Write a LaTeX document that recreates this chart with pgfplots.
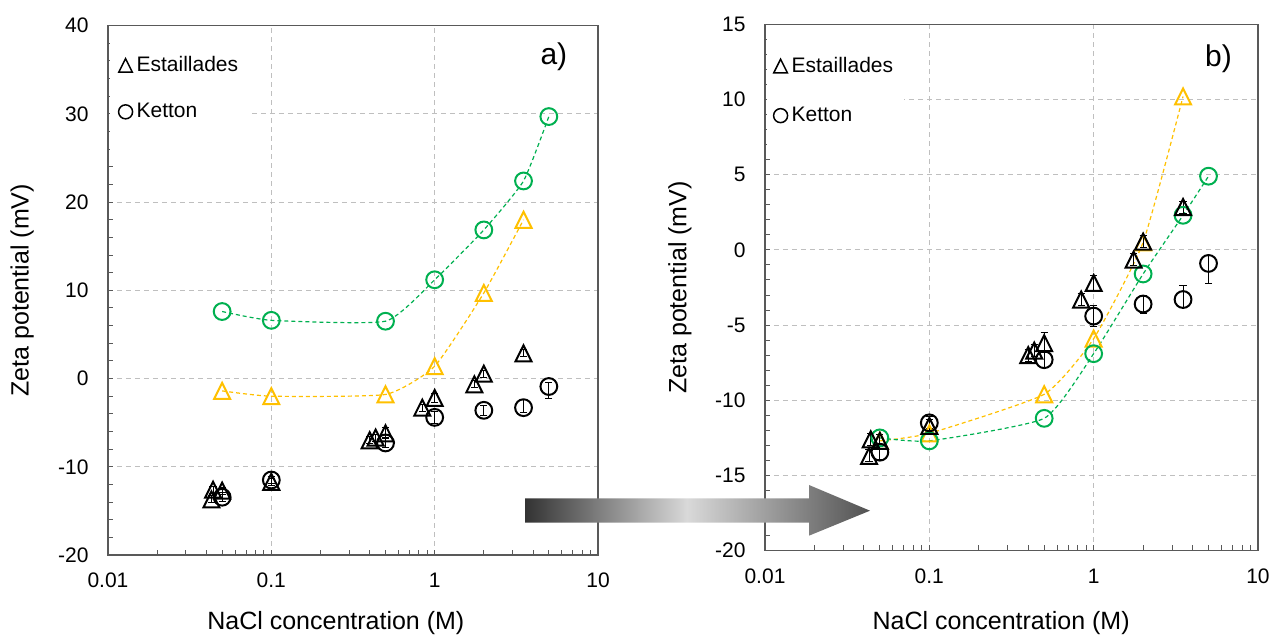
\documentclass[border=0pt]{standalone}
\usepackage{pgfplots}
\pgfplotsset{compat=1.18}
\usepackage{pgfplotstable}
\usepackage{fontspec}
\setmainfont{Liberation Sans}
\definecolor{fitgreen}{HTML}{00B050}
\definecolor{fitorange}{HTML}{FFC000}
\definecolor{framegray}{HTML}{595959}
\definecolor{gridgray}{HTML}{BFBFBF}

\pgfdeclareplotmark{tri}{%
  \pgfpathmoveto{\pgfqpoint{0pt}{\pgfplotmarksize}}%
  \pgfpathlineto{\pgfqpoint{-\pgfplotmarksize}{-\pgfplotmarksize}}%
  \pgfpathlineto{\pgfqpoint{\pgfplotmarksize}{-\pgfplotmarksize}}%
  \pgfpathclose
  \pgfusepathqstroke}

\pgfdeclarehorizontalshading{arrowshade}{100bp}{color(0bp)=(black!80); color(25bp)=(black!80); color(48.5bp)=(black!15); color(75bp)=(black!68); color(100bp)=(black!68)}

% measured data (shared by both panels)
\pgfplotstableread{
x y ep em
0.043 -13.7 0.4 0.4
0.044 -12.6 0.4 0.4
0.05 -12.7 0.4 0.4
0.1 -11.7 0.4 0.4
0.40 -7.0 0.4 0.4
0.435 -6.7 0.4 0.4
0.5 -6.2 0.7 0.5
0.84 -3.3 0.4 0.4
1.0 -2.2 0.5 0.5
1.75 -0.65 0.4 0.4
2.0 0.55 0.4 0.4
3.5 2.85 0.4 0.4
}\estdata
\pgfplotstableread{
x y ep em
0.05 -13.45 0.5 0.5
0.1 -11.5 0.4 0.4
0.5 -7.3 0.5 0.5
1.0 -4.4 0.7 0.7
2.0 -3.6 0.6 0.6
3.5 -3.3 0.95 0.5
5.0 -0.9 0.5 1.35
}\ketdata
\pgfplotstableread{
x y
0.05 7.6
0.1 6.6
0.5 6.5
1 11.2
2 16.85
3.5 22.4
5 29.7
}\agreen
\pgfplotstableread{
x y
0.05 -1.4
0.1 -2.0
0.5 -1.8
1 1.4
2 9.7
3.5 18.0
}\aorange
\pgfplotstableread{
x y
0.05 -12.5
0.1 -12.7
0.5 -11.2
1 -6.9
2 -1.6
3.5 2.3
5 4.9
}\bgreen
\pgfplotstableread{
x y
0.05 -12.7
0.1 -12.2
0.5 -9.6
1 -5.9
2 0.5
3.5 10.2
}\borange

\begin{document}
\begin{tikzpicture}
\useasboundingbox (0,0) rectangle (635.5pt,318pt);

% ---------------- panel a ----------------
\begin{axis}[
  scale only axis, anchor=south west,
  at={(54pt,40.5pt)}, width=245pt, height=264.65pt,
  xmode=log, xmin=0.01, xmax=10,
  xtick={0.01,0.1,1,10}, xticklabels={0.01,0.1,1,10},
  minor xtick={0.02,0.03,0.04,0.05,0.06,0.07,0.08,0.09,0.2,0.3,0.4,0.5,0.6,0.7,0.8,0.9,2,3,4,5,6,7,8,9},
  ymin=-20, ymax=40, ytick={-20,-10,0,10,20,30,40},
  yticklabels={-20,-10,0,10,20,30,40}, minor y tick num=4,
  tick pos=left, tick align=inside,
  major tick length=2.7pt, minor tick length=2.7pt,
  tick style={framegray, line width=0.5pt},
  axis line style={framegray, line width=0.7pt},
  grid=major,
  major grid style={gridgray, line width=0.5pt, dash pattern=on 2.5pt off 2pt},
  tick label style={font=\fontsize{10.5}{12}\selectfont, black},
  xticklabel style={inner sep=0pt, anchor=north, yshift=-8.75pt},
  yticklabel style={inner sep=0pt, anchor=east, xshift=-9.5pt},
  label style={font=\fontsize{12.5}{15}\selectfont},
  xlabel={NaCl concentration (M)},
  ylabel={Zeta potential (mV)},
  xlabel style={at={(axis description cs:0.465,-0.1285)}, anchor=center},
  ylabel style={at={(axis description cs:-0.175,0.5)}, anchor=center},
  legend cell align=left,
  legend image code/.code={\draw[#1] plot coordinates {(3.5pt,0pt)};},
  legend style={font=\fontsize{10.5}{12.5}\selectfont, at={(0,1)},
    anchor=north west, xshift=0.6pt, yshift=-0.6pt, draw=none, fill=white,
    inner xsep=4.5pt, inner ysep=12.5pt, row sep=10.3pt},
]
\addplot[fitgreen, line width=0.6pt, dash pattern=on 2pt off 1.5pt, smooth, tension=0.3, mark=o, mark size=4.2pt, mark options={solid, line width=1pt}, forget plot] table[x=x,y=y] {\agreen};
\addplot[fitorange, line width=0.6pt, dash pattern=on 2pt off 1.5pt, smooth, tension=0.3, mark=tri, mark size=4pt, mark options={solid, line width=1pt}, forget plot] table[x=x,y=y] {\aorange};
\addplot[black, only marks, mark=tri, mark size=4pt, mark options={line width=1pt}, forget plot,
  error bars/.cd, y dir=both, y explicit, error mark=-, error bar style={line width=0.5pt, black}, error mark options={black, line width=0.5pt, mark size=1.8pt, rotate=90}]
  table[x=x,y=y,y error plus=ep,y error minus=em] {\estdata};
\addplot[black, only marks, mark=o, mark size=4.2pt, mark options={line width=1pt}, forget plot,
  error bars/.cd, y dir=both, y explicit, error mark=-, error bar style={line width=0.5pt, black}, error mark options={black, line width=0.5pt, mark size=1.8pt, rotate=90}]
  table[x=x,y=y,y error plus=ep,y error minus=em] {\ketdata};
\addlegendimage{black, mark=tri, mark size=3.4pt, mark options={solid, line width=0.75pt}}
\addlegendentry{Estaillades}
\addlegendimage{black, mark=o, mark size=3.5pt, mark options={solid, line width=0.75pt}}
\addlegendentry{Ketton}
\node[font=\fontsize{15}{18}\selectfont] at (rel axis cs:0.91,0.941) {a)};
\end{axis}

% ---------------- panel b ----------------
\begin{axis}[
  scale only axis, anchor=south west,
  at={(382.5pt,42.65pt)}, width=246.5pt, height=263.2pt,
  xmode=log, xmin=0.01, xmax=10,
  xtick={0.01,0.1,1,10}, xticklabels={0.01,0.1,1,10},
  minor xtick={0.02,0.03,0.04,0.05,0.06,0.07,0.08,0.09,0.2,0.3,0.4,0.5,0.6,0.7,0.8,0.9,2,3,4,5,6,7,8,9},
  ymin=-20, ymax=15, ytick={-20,-15,-10,-5,0,5,10,15},
  yticklabels={-20,-15,-10,-5,0,5,10,15}, minor y tick num=4,
  tick pos=left, tick align=inside,
  major tick length=2.7pt, minor tick length=2.7pt,
  tick style={framegray, line width=0.5pt},
  axis line style={framegray, line width=0.7pt},
  grid=major,
  major grid style={gridgray, line width=0.5pt, dash pattern=on 2.5pt off 2pt},
  tick label style={font=\fontsize{10.5}{12}\selectfont, black},
  xticklabel style={inner sep=0pt, anchor=north, yshift=-8.75pt},
  yticklabel style={inner sep=0pt, anchor=east, xshift=-9.5pt},
  label style={font=\fontsize{12.5}{15}\selectfont},
  xlabel={NaCl concentration (M)},
  ylabel={Zeta potential (mV)},
  xlabel style={at={(axis description cs:0.479,-0.1368)}, anchor=center},
  ylabel style={at={(axis description cs:-0.1724,0.5)}, anchor=center},
  legend cell align=left,
  legend image code/.code={\draw[#1] plot coordinates {(3.5pt,0pt)};},
  legend style={font=\fontsize{10.5}{12.5}\selectfont, at={(0,1)},
    anchor=north west, xshift=0.6pt, yshift=-0.6pt, draw=none, fill=white,
    inner xsep=3.5pt, inner ysep=13.5pt, row sep=11.9pt},
]
\addplot[fitorange, line width=0.6pt, dash pattern=on 2pt off 1.5pt, smooth, tension=0.3, mark=tri, mark size=4pt, mark options={solid, line width=1pt}, forget plot] table[x=x,y=y] {\borange};
\addplot[fitgreen, line width=0.6pt, dash pattern=on 2pt off 1.5pt, smooth, tension=0.3, mark=o, mark size=4.2pt, mark options={solid, line width=1pt}, forget plot] table[x=x,y=y] {\bgreen};
\addplot[black, only marks, mark=tri, mark size=4pt, mark options={line width=1pt}, forget plot,
  error bars/.cd, y dir=both, y explicit, error mark=-, error bar style={line width=0.5pt, black}, error mark options={black, line width=0.5pt, mark size=1.8pt, rotate=90}]
  table[x=x,y=y,y error plus=ep,y error minus=em] {\estdata};
\addplot[black, only marks, mark=o, mark size=4.2pt, mark options={line width=1pt}, forget plot,
  error bars/.cd, y dir=both, y explicit, error mark=-, error bar style={line width=0.5pt, black}, error mark options={black, line width=0.5pt, mark size=1.8pt, rotate=90}]
  table[x=x,y=y,y error plus=ep,y error minus=em] {\ketdata};
\addlegendimage{black, mark=tri, mark size=3.4pt, mark options={solid, line width=0.75pt}}
\addlegendentry{Estaillades}
\addlegendimage{black, mark=o, mark size=3.5pt, mark options={solid, line width=0.75pt}}
\addlegendentry{Ketton}
\node[font=\fontsize{15}{18}\selectfont] at (rel axis cs:0.92,0.935) {b)};
\end{axis}

% gradient arrow
\shade[shading=arrowshade] (262.5pt,56.65pt) -- (404.5pt,56.65pt) -- (404.5pt,50.15pt) -- (435pt,62.65pt) -- (404.5pt,75.5pt) -- (404.5pt,68.85pt) -- (262.5pt,68.85pt) -- cycle;
\end{tikzpicture}
\end{document}
